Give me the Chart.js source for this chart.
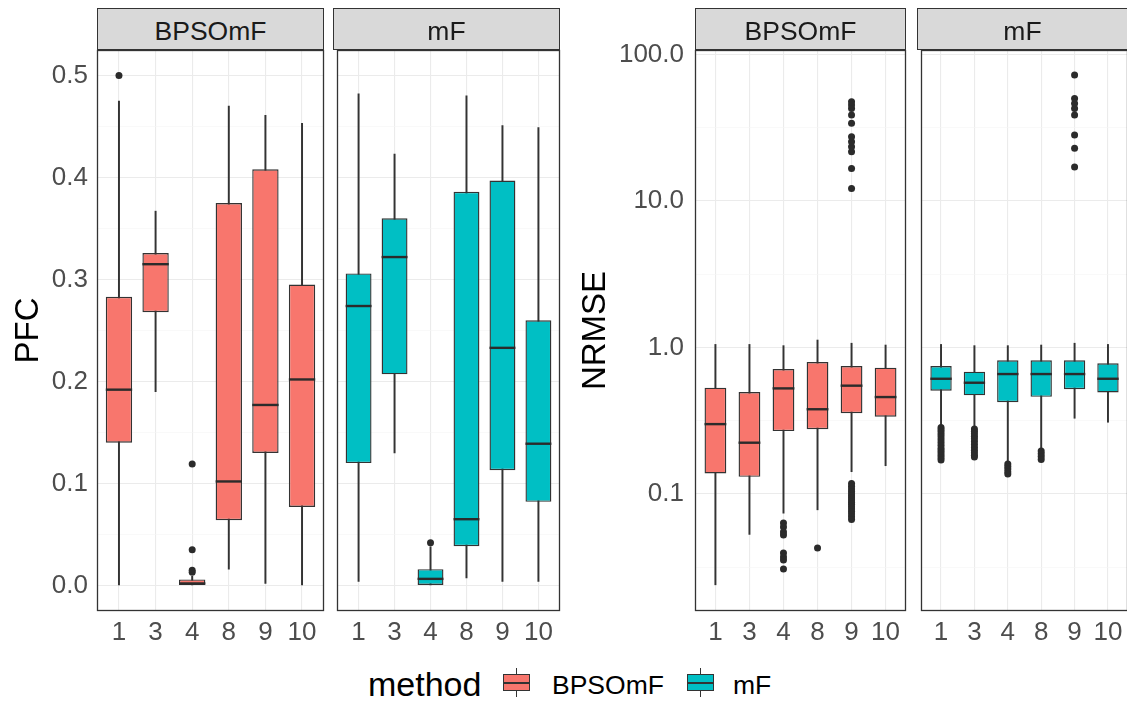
<!DOCTYPE html>
<html>
<head>
<meta charset="utf-8">
<script src="https://cdn.jsdelivr.net/npm/chart.js@4.4.1/dist/chart.umd.min.js"></script>
<style>
  html, body { margin: 0; padding: 0; width: 1127px; height: 705px; overflow: hidden; background: #fff; }
  body { position: relative; font-family: "Liberation Sans", Arial, sans-serif; }
  canvas { position: absolute; }
  .strip { position: absolute; top: 8px; height: 42px; box-sizing: border-box; border: 1px solid #333;
           background: #D9D9D9; color: #1A1A1A; font-size: 26.5px; line-height: 26.5px; z-index: 2; }
  .strip span { position: absolute; left: 0; right: 0; top: 9px; text-align: center; }
  .txt { position: absolute; color: #000; white-space: nowrap; }
  .key { position: absolute; top: 668px; width: 27px; height: 29px; }
  .key .wh { position: absolute; left: 13px; top: 0; width: 1px; height: 29px; background: #333; }
  .key .bx { position: absolute; left: 0; top: 6px; width: 27px; height: 17px; box-sizing: border-box; border: 1px solid #333; }
  .key .md { position: absolute; left: 0; top: 13.5px; width: 27px; height: 2px; background: #333; }
</style>
</head>
<body>
<div class="txt" style="left:368px;top:667px;font-size:34px;line-height:34px">method</div>
<div class="key" style="left:503px"><div class="wh"></div><div class="bx" style="background:#F8766D"></div><div class="md"></div></div>
<div class="txt" style="left:552px;top:672px;font-size:26.5px;line-height:26.5px">BPSOmF</div>
<div class="key" style="left:687px"><div class="wh"></div><div class="bx" style="background:#00BFC4"></div><div class="md"></div></div>
<div class="txt" style="left:733px;top:672px;font-size:26.5px;line-height:26.5px">mF</div>

<script>
const categories = ['1', '3', '4', '8', '9', '10'];
const methods = ['BPSOmF', 'mF'];

const pfcTicks = [0, 0.1, 0.2, 0.3, 0.4, 0.5];
const pfcMinor = [0.05, 0.15, 0.25, 0.35, 0.45];
const pfcMin = -0.025, pfcMax = 0.525;

const nrmseTicks = [0.1, 1, 10, 100];
const nrmseMinor = [0.0316, 0.316, 3.16, 31.6];
const nrmseMin = 0.0159, nrmseMax = 107.4;

// PFC - BPSOmF
const pfcBpsoLow  = [0.0, 0.190, 0.0, 0.016, 0.002, 0.0];
const pfcBpsoQ1   = [0.140, 0.268, 0.0, 0.064, 0.130, 0.077];
const pfcBpsoMed  = [0.192, 0.315, 0.002, 0.102, 0.177, 0.202];
const pfcBpsoQ3   = [0.283, 0.326, 0.006, 0.375, 0.408, 0.295];
const pfcBpsoHigh = [0.475, 0.367, 0.009, 0.470, 0.461, 0.453];
const pfcBpsoOut  = [[0.5], [], [0.119, 0.035, 0.015, 0.013], [], [], []];

// PFC - mF
const pfcMfLow  = [0.004, 0.130, 0.0, 0.0075, 0.004, 0.004];
const pfcMfQ1   = [0.120, 0.207, 0.0, 0.0386, 0.113, 0.082];
const pfcMfMed  = [0.274, 0.322, 0.0065, 0.065, 0.233, 0.139];
const pfcMfQ3   = [0.306, 0.360, 0.016, 0.386, 0.397, 0.260];
const pfcMfHigh = [0.482, 0.423, 0.038, 0.480, 0.451, 0.449];
const pfcMfOut  = [[], [], [0.042], [], [], []];

// NRMSE - BPSOmF
const nrmseBpsoLow  = [0.024, 0.053, 0.074, 0.078, 0.142, 0.156];
const nrmseBpsoQ1   = [0.138, 0.131, 0.269, 0.277, 0.356, 0.337];
const nrmseBpsoMed  = [0.300, 0.224, 0.526, 0.379, 0.549, 0.459];
const nrmseBpsoQ3   = [0.532, 0.497, 0.713, 0.796, 0.748, 0.728];
const nrmseBpsoHigh = [1.05, 1.05, 1.03, 1.125, 1.07, 1.04];
const nrmseBpsoOut  = [
  [], [],
  [0.0634, 0.0595, 0.0551, 0.0525, 0.0396, 0.0371, 0.0354, 0.0308],
  [0.0428],
  [0.118, 0.113, 0.108, 0.104, 0.1, 0.097, 0.094, 0.091, 0.088, 0.085, 0.082, 0.079, 0.076, 0.073, 0.07, 0.067,
   12.2, 16.7, 21.7, 23.5, 25.4, 27.5, 33.9, 38.7, 42.9, 45.2, 47.6],
  []
];

// NRMSE - mF
const nrmseMfLow  = [0.288, 0.281, 0.162, 0.200, 0.329, 0.309];
const nrmseMfQ1   = [0.507, 0.472, 0.423, 0.461, 0.519, 0.494];
const nrmseMfMed  = [0.612, 0.575, 0.659, 0.659, 0.659, 0.612];
const nrmseMfQ3   = [0.748, 0.684, 0.818, 0.818, 0.818, 0.780];
const nrmseMfHigh = [1.05, 1.03, 1.03, 1.04, 1.07, 1.05];
const nrmseMfOut  = [
  [0.285, 0.275, 0.265, 0.255, 0.245, 0.235, 0.225, 0.215, 0.205, 0.198, 0.191, 0.184, 0.177, 0.171],
  [0.278, 0.268, 0.258, 0.248, 0.238, 0.228, 0.218, 0.208, 0.199, 0.191, 0.184, 0.179],
  [0.16, 0.154, 0.148, 0.142, 0.137],
  [0.197, 0.188, 0.18, 0.172],
  [17.1, 22.9, 28.2, 38.7, 42.9, 46.4, 50.2, 72.4],
  []
];

const fills = { BPSOmF: '#F8766D', mF: '#00BFC4' };
const FONT = '"Liberation Sans", Arial, sans-serif';
const PANEL_TOP = 50, PANEL_H = 561;

const facets = [
  { metric: 'PFC', method: 'BPSOmF', low: pfcBpsoLow, q1: pfcBpsoQ1, med: pfcBpsoMed, q3: pfcBpsoQ3, high: pfcBpsoHigh, out: pfcBpsoOut,
    left: 97, width: 227, axisW: 97, labelPad: 9, titlePad: 9, log: false, boxPct: 0.72 },
  { metric: 'PFC', method: 'mF', low: pfcMfLow, q1: pfcMfQ1, med: pfcMfMed, q3: pfcMfQ3, high: pfcMfHigh, out: pfcMfOut,
    left: 333, width: 227, axisW: 0, labelPad: 9, titlePad: 9, log: false, boxPct: 0.72 },
  { metric: 'NRMSE', method: 'BPSOmF', low: nrmseBpsoLow, q1: nrmseBpsoQ1, med: nrmseBpsoMed, q3: nrmseBpsoQ3, high: nrmseBpsoHigh, out: nrmseBpsoOut,
    left: 695, width: 211, axisW: 125, labelPad: 11, titlePad: 6, log: true, boxPct: 0.64 },
  { metric: 'NRMSE', method: 'mF', low: nrmseMfLow, q1: nrmseMfQ1, med: nrmseMfMed, q3: nrmseMfQ3, high: nrmseMfHigh, out: nrmseMfOut,
    left: 917, width: 211, axisW: 0, labelPad: 11, titlePad: 6, log: true, boxPct: 0.64 }
];

// frame around each panel
const panelBorder = {
  id: 'panelBorder',
  afterDraw(chart) {
    const { ctx, chartArea: a } = chart;
    ctx.save();
    ctx.strokeStyle = '#333';
    ctx.lineWidth = 1.3;
    ctx.strokeRect(a.left + 0.5, a.top + 0.5, a.right - a.left - 1, a.bottom - a.top - 1);
    ctx.restore();
  }
};

function makeFacet(f) {
  const padTop = 40, padRight = 20, axisH = 60;
  const cv = document.createElement('canvas');
  cv.width = f.axisW + f.width + padRight;
  cv.height = padTop + PANEL_H + axisH;
  cv.style.left = (f.left - f.axisW) + 'px';
  cv.style.top = (PANEL_TOP - padTop) + 'px';
  document.body.appendChild(cv);

  const strip = document.createElement('div');
  strip.className = 'strip';
  strip.style.left = f.left + 'px';
  strip.style.width = f.width + 'px';
  strip.innerHTML = '<span>' + f.method + '</span>';
  document.body.appendChild(strip);

  const xs = categories.map((c, i) => i + 1);
  const major = f.log ? nrmseTicks : pfcTicks;
  const minor = f.log ? nrmseMinor : pfcMinor;
  const halfBox = ctx => {
    const s = ctx.chart.scales.x;
    return (s.getPixelForValue(2) - s.getPixelForValue(1)) * f.boxPct / 2;
  };
  const outPts = [];
  f.out.forEach((arr, i) => arr.forEach(v => outPts.push({ x: i + 1, y: v })));

  new Chart(cv, {
    type: 'bar',
    data: {
      datasets: [
        { type: 'scatter', data: outPts, pointRadius: 3.5, backgroundColor: '#2b2b2b', borderWidth: 0, order: 0 },
        { type: 'scatter', data: xs.map((x, i) => ({ x, y: f.med[i] })), pointStyle: 'line',
          pointRadius: halfBox, borderColor: '#2b2b2b', borderWidth: 2.4, order: 1 },
        { data: xs.map((x, i) => ({ x, y: [f.q1[i], f.q3[i]] })), backgroundColor: fills[f.method],
          borderColor: '#333', borderWidth: 1.4, borderSkipped: false, grouped: false,
          categoryPercentage: 1, barPercentage: f.boxPct, order: 2 },
        { data: xs.map((x, i) => ({ x, y: [f.low[i], f.high[i]] })), backgroundColor: '#333',
          borderWidth: 0, grouped: false, barThickness: 1.3, order: 3 }
      ]
    },
    options: {
      responsive: false,
      animation: false,
      devicePixelRatio: 1,
      events: [],
      layout: { padding: { top: padTop, right: padRight, left: 0, bottom: 0 } },
      plugins: { legend: { display: false }, tooltip: { enabled: false } },
      scales: {
        x: {
          type: 'linear', min: 0.4, max: 6.6, offset: false,
          afterBuildTicks: s => { s.ticks = xs.map(v => ({ value: v })); },
          afterFit: s => { s.height = axisH; },
          grid: { color: '#EBEBEB', lineWidth: 1.1, drawTicks: false, offset: false },
          border: { display: false },
          ticks: { autoSkip: false, maxRotation: 0, padding: 6, color: '#4D4D4D',
                   font: { family: FONT, size: 26 }, callback: v => categories[v - 1] ?? '' }
        },
        y: {
          type: f.log ? 'logarithmic' : 'linear',
          min: f.log ? nrmseMin : pfcMin,
          max: f.log ? nrmseMax : pfcMax,
          afterBuildTicks: s => {
            s.ticks = major.concat(minor).sort((a, b) => a - b).map(v => ({ value: v }));
          },
          afterFit: s => { s.width = f.axisW; },
          grid: {
            color: c => (c.tick && major.includes(c.tick.value)) ? '#EBEBEB' : '#F5F5F5',
            lineWidth: c => (c.tick && major.includes(c.tick.value)) ? 1.1 : 0.6,
            drawTicks: false
          },
          border: { display: false },
          ticks: { display: f.axisW > 0, padding: f.labelPad, color: '#4D4D4D',
                   font: { family: FONT, size: 26 },
                   callback: v => major.includes(v) ? Number(v).toFixed(1) : '' },
          title: { display: f.axisW > 0, text: f.metric, color: '#000',
                   font: { family: FONT, size: 33 }, padding: { top: f.titlePad, bottom: 0 } }
        }
      }
    },
    plugins: [panelBorder]
  });
}

facets.forEach(makeFacet);
</script>
</body>
</html>
